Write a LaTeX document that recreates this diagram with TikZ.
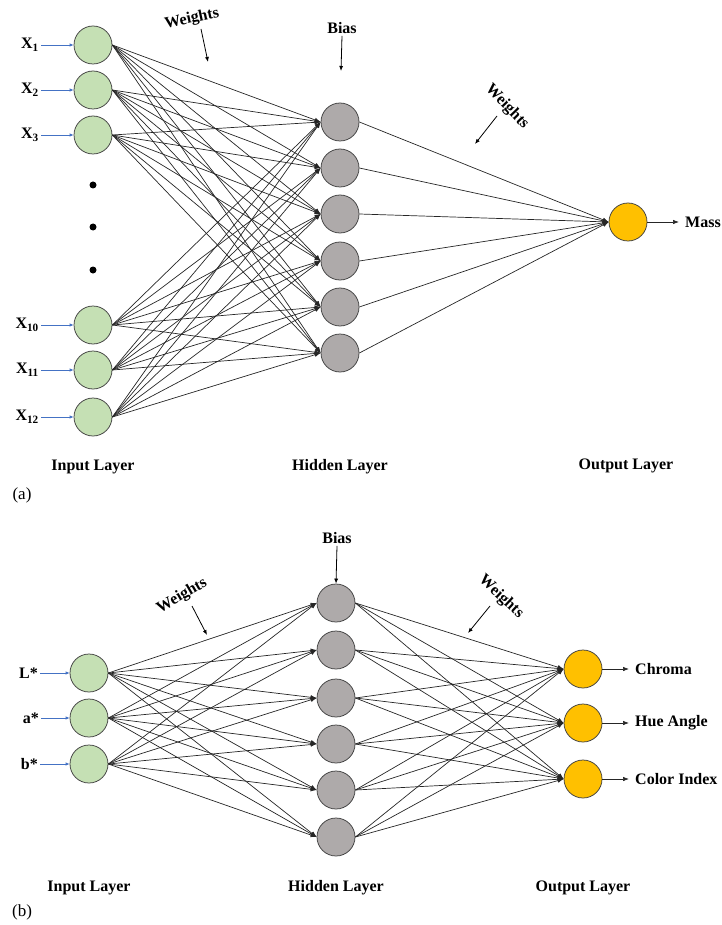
\documentclass[tikz,border=0pt]{standalone}
\usepackage{fontspec}
\setmainfont{Liberation Serif}
\usetikzlibrary{arrows.meta}
\newlength{\du}
\setlength{\du}{1pt}
\definecolor{incolor}{rgb}{0.773, 0.878, 0.706}
\definecolor{hidcolor}{rgb}{0.682, 0.667, 0.667}
\definecolor{outcolor}{rgb}{1.000, 0.753, 0.000}
\definecolor{rimcolor}{rgb}{0.250, 0.250, 0.250}
\definecolor{wirecolor}{rgb}{0.150, 0.150, 0.150}
\definecolor{feedcolor}{rgb}{0.267, 0.447, 0.769}
\tikzset{
  neuron/.style={circle, draw=rimcolor, line width=0.75\du, minimum size=38\du, inner sep=0pt},
  inneuron/.style={neuron, fill=incolor},
  hidneuron/.style={neuron, fill=hidcolor},
  outneuron/.style={neuron, fill=outcolor},
  wire/.style={draw=wirecolor, line width=0.7\du, -{Latex[length=6pt,width=4.5pt]}},
  feed/.style={draw=feedcolor, line width=0.8\du, -{Latex[length=4pt,width=3.5pt]}},
  pointer/.style={draw=black, line width=0.8\du, -{Latex[length=5pt,width=4pt]}},
  tag/.style={font=\fontsize{16}{19}\selectfont\bfseries, inner sep=2\du},
  intag/.style={tag, anchor=east},
  outtag/.style={tag, anchor=west, inner xsep=6\du},
  paneltag/.style={font=\fontsize{17}{20}\selectfont, inner sep=0pt},
}

\begin{document}
\begin{tikzpicture}
\pgftransformxscale{1.000000}
\pgftransformyscale{-1.000000}
\useasboundingbox (0\du,0\du) rectangle (721\du,925\du);
% panel (a)
\node[inneuron] (in1) at (93\du,45\du){};
\node[inneuron] (in2) at (93\du,90\du){};
\node[inneuron] (in3) at (93\du,135\du){};
\node[inneuron] (in10) at (93\du,325\du){};
\node[inneuron] (in11) at (93\du,370\du){};
\node[inneuron] (in12) at (93\du,417\du){};
\pgfpathellipse{\pgfpoint{93\du}{185\du}}{\pgfpoint{3.5\du}{0\du}}{\pgfpoint{0\du}{3.5\du}}
\pgfpathellipse{\pgfpoint{93\du}{227\du}}{\pgfpoint{3.5\du}{0\du}}{\pgfpoint{0\du}{3.5\du}}
\pgfpathellipse{\pgfpoint{93\du}{270\du}}{\pgfpoint{3.5\du}{0\du}}{\pgfpoint{0\du}{3.5\du}}
\pgfusepath{fill}
\node[intag] (xin1) at (41\du,45\du){X\textsubscript{1}};
\node[intag] (xin2) at (41\du,90\du){X\textsubscript{2}};
\node[intag] (xin3) at (41\du,135\du){X\textsubscript{3}};
\node[intag] (xin10) at (41\du,325\du){X\textsubscript{10}};
\node[intag] (xin11) at (41\du,370\du){X\textsubscript{11}};
\node[intag] (xin12) at (41\du,417\du){X\textsubscript{12}};
\draw[feed] (xin1.east)--(in1.west);
\draw[feed] (xin2.east)--(in2.west);
\draw[feed] (xin3.east)--(in3.west);
\draw[feed] (xin10.east)--(in10.west);
\draw[feed] (xin11.east)--(in11.west);
\draw[feed] (xin12.east)--(in12.west);
\node[hidneuron] (hid1) at (340\du,122\du){};
\node[hidneuron] (hid2) at (340\du,168\du){};
\node[hidneuron] (hid3) at (340\du,214\du){};
\node[hidneuron] (hid4) at (340\du,261\du){};
\node[hidneuron] (hid5) at (340\du,307\du){};
\node[hidneuron] (hid6) at (340\du,353\du){};
\node[outneuron] (out1) at (628\du,222\du){};
\node[outtag] (mass) at (679\du,222\du){Mass};
\draw[wire] (out1.east)--(mass.west);
% input to hidden
\draw[wire] (in1.east)--(hid1.west);
\draw[wire] (in1.east)--(hid2.west);
\draw[wire] (in1.east)--(hid3.west);
\draw[wire] (in1.east)--(hid4.west);
\draw[wire] (in1.east)--(hid5.west);
\draw[wire] (in1.east)--(hid6.west);
\draw[wire] (in2.east)--(hid1.west);
\draw[wire] (in2.east)--(hid2.west);
\draw[wire] (in2.east)--(hid3.west);
\draw[wire] (in2.east)--(hid4.west);
\draw[wire] (in2.east)--(hid5.west);
\draw[wire] (in2.east)--(hid6.west);
\draw[wire] (in3.east)--(hid1.west);
\draw[wire] (in3.east)--(hid2.west);
\draw[wire] (in3.east)--(hid3.west);
\draw[wire] (in3.east)--(hid4.west);
\draw[wire] (in3.east)--(hid5.west);
\draw[wire] (in3.east)--(hid6.west);
\draw[wire] (in10.east)--(hid1.west);
\draw[wire] (in10.east)--(hid2.west);
\draw[wire] (in10.east)--(hid3.west);
\draw[wire] (in10.east)--(hid4.west);
\draw[wire] (in10.east)--(hid5.west);
\draw[wire] (in10.east)--(hid6.west);
\draw[wire] (in11.east)--(hid1.west);
\draw[wire] (in11.east)--(hid2.west);
\draw[wire] (in11.east)--(hid3.west);
\draw[wire] (in11.east)--(hid4.west);
\draw[wire] (in11.east)--(hid5.west);
\draw[wire] (in11.east)--(hid6.west);
\draw[wire] (in12.east)--(hid1.west);
\draw[wire] (in12.east)--(hid2.west);
\draw[wire] (in12.east)--(hid3.west);
\draw[wire] (in12.east)--(hid4.west);
\draw[wire] (in12.east)--(hid5.west);
\draw[wire] (in12.east)--(hid6.west);
% hidden to output
\draw[wire] (hid1.east)--(out1.west);
\draw[wire] (hid2.east)--(out1.west);
\draw[wire] (hid3.east)--(out1.west);
\draw[wire] (hid4.east)--(out1.west);
\draw[wire] (hid5.east)--(out1.west);
\draw[wire] (hid6.east)--(out1.west);
% labels
\node[tag] (bias1) at (342\du,28\du){Bias};
\coordinate (bias1end) at (341\du,71\du);
\draw[pointer] (bias1.south)--(bias1end);
\node[tag, rotate=12] (wt1) at (192\du,19\du){Weights};
\coordinate (wt1a) at (201\du,29\du);
\coordinate (wt1b) at (208\du,62\du);
\draw[pointer] (wt1a)--(wt1b);
\node[tag, rotate=-46] (wt2) at (507\du,107\du){Weights};
\coordinate (wt2a) at (497\du,116\du);
\coordinate (wt2b) at (475\du,144\du);
\draw[pointer] (wt2a)--(wt2b);
\node[tag] (lay1) at (93\du,467\du){Input Layer};
\node[tag] (lay2) at (340\du,467\du){Hidden Layer};
\node[tag] (lay3) at (626\du,466\du){Output Layer};
\node[paneltag] (pa) at (22\du,495\du){(a)};
% panel (b)
\node[inneuron] (bin1) at (89\du,673\du){};
\node[inneuron] (bin2) at (89\du,718\du){};
\node[inneuron] (bin3) at (89\du,764\du){};
\node[intag] (lin) at (40\du,673\du){L*};
\node[intag] (ain) at (41\du,718\du){a*};
\node[intag] (bbin) at (40\du,764\du){b*};
\draw[feed] (lin.east)--(bin1.west);
\draw[feed] (ain.east)--(bin2.west);
\draw[feed] (bbin.east)--(bin3.west);
\node[hidneuron] (bhid1) at (336\du,603\du){};
\node[hidneuron] (bhid2) at (336\du,650\du){};
\node[hidneuron] (bhid3) at (336\du,698\du){};
\node[hidneuron] (bhid4) at (336\du,744\du){};
\node[hidneuron] (bhid5) at (336\du,790\du){};
\node[hidneuron] (bhid6) at (336\du,837\du){};
\node[outneuron] (bout1) at (583\du,669\du){};
\node[outneuron] (bout2) at (583\du,723\du){};
\node[outneuron] (bout3) at (583\du,779\du){};
\node[outtag] (chroma) at (629\du,669\du){Chroma};
\node[outtag] (hue) at (629\du,723\du){Hue Angle};
\node[outtag] (cindex) at (629\du,779\du){Color Index};
\draw[wire] (bout1.east)--(chroma.west);
\draw[wire] (bout2.east)--(hue.west);
\draw[wire] (bout3.east)--(cindex.west);
% input to hidden
\draw[wire] (bin1.east)--(bhid1.west);
\draw[wire] (bin1.east)--(bhid2.west);
\draw[wire] (bin1.east)--(bhid3.west);
\draw[wire] (bin1.east)--(bhid4.west);
\draw[wire] (bin1.east)--(bhid5.west);
\draw[wire] (bin1.east)--(bhid6.west);
\draw[wire] (bin2.east)--(bhid1.west);
\draw[wire] (bin2.east)--(bhid2.west);
\draw[wire] (bin2.east)--(bhid3.west);
\draw[wire] (bin2.east)--(bhid4.west);
\draw[wire] (bin2.east)--(bhid5.west);
\draw[wire] (bin2.east)--(bhid6.west);
\draw[wire] (bin3.east)--(bhid1.west);
\draw[wire] (bin3.east)--(bhid2.west);
\draw[wire] (bin3.east)--(bhid3.west);
\draw[wire] (bin3.east)--(bhid4.west);
\draw[wire] (bin3.east)--(bhid5.west);
\draw[wire] (bin3.east)--(bhid6.west);
% hidden to output
\draw[wire] (bhid1.east)--(bout1.west);
\draw[wire] (bhid1.east)--(bout2.west);
\draw[wire] (bhid1.east)--(bout3.west);
\draw[wire] (bhid2.east)--(bout1.west);
\draw[wire] (bhid2.east)--(bout2.west);
\draw[wire] (bhid2.east)--(bout3.west);
\draw[wire] (bhid3.east)--(bout1.west);
\draw[wire] (bhid3.east)--(bout2.west);
\draw[wire] (bhid3.east)--(bout3.west);
\draw[wire] (bhid4.east)--(bout1.west);
\draw[wire] (bhid4.east)--(bout2.west);
\draw[wire] (bhid4.east)--(bout3.west);
\draw[wire] (bhid5.east)--(bout1.west);
\draw[wire] (bhid5.east)--(bout2.west);
\draw[wire] (bhid5.east)--(bout3.west);
\draw[wire] (bhid6.east)--(bout1.west);
\draw[wire] (bhid6.east)--(bout2.west);
\draw[wire] (bhid6.east)--(bout3.west);
% labels
\node[tag] (bias2) at (337\du,538\du){Bias};
\draw[pointer] (bias2.south)--(bhid1.north);
\node[tag, rotate=30] (wt3) at (182\du,596\du){Weights};
\coordinate (wt3a) at (192\du,606\du);
\coordinate (wt3b) at (207\du,635\du);
\draw[pointer] (wt3a)--(wt3b);
\node[tag, rotate=-43] (wt4) at (501\du,597\du){Weights};
\coordinate (wt4a) at (490\du,606\du);
\coordinate (wt4b) at (468\du,633\du);
\draw[pointer] (wt4a)--(wt4b);
\node[tag] (blay1) at (89\du,888\du){Input Layer};
\node[tag] (blay2) at (336\du,888\du){Hidden Layer};
\node[tag] (blay3) at (583\du,888\du){Output Layer};
\node[paneltag] (pb) at (22\du,912\du){(b)};
\end{tikzpicture}
\end{document}
